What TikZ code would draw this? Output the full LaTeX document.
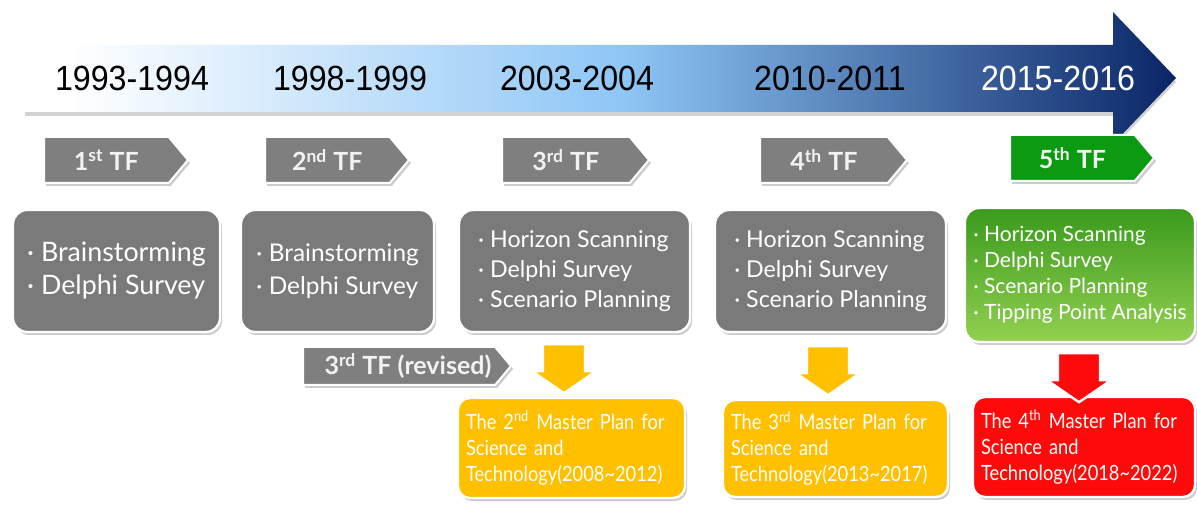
\documentclass[tikz,border=0pt]{standalone}
\usepackage{fontspec}
\setmainfont{Lato}
\newfontfamily\yearfont[FakeStretch=0.92]{Liberation Sans}
\newfontfamily\planfont[FakeStretch=0.87]{Lato}
\usetikzlibrary{shapes.symbols,shadows}

\definecolor{tfgray}{HTML}{7F7F7F}
\definecolor{boxgray}{HTML}{7A7A7A}
\definecolor{tfgreen}{HTML}{0C9A12}
\definecolor{greentop}{HTML}{3A9A1C}
\definecolor{greenbot}{HTML}{92D050}
\definecolor{planyellow}{HTML}{FFC000}
\definecolor{planred}{HTML}{FF0A0A}
\definecolor{skyblue}{HTML}{8EC6F6}
\definecolor{deepnavy}{HTML}{0A2566}
\pgfdeclarehorizontalshading{timeline}{100bp}{color(0bp)=(white); color(27bp)=(white); color(51bp)=(skyblue); color(75bp)=(deepnavy); color(100bp)=(deepnavy)}

\tikzset{
  softshadow/.style={drop shadow={shadow xshift=1pt,shadow yshift=-1.5pt,opacity=.4}},
  tftag/.style={signal, signal to=east, signal pointer angle=100, fill=tfgray, draw=white, line width=1pt,
    minimum width=72pt, minimum height=23pt, inner sep=0pt, text=white!95!black,
    font=\bfseries\fontsize{12.5}{14}\selectfont, softshadow},
  listbox/.style={rounded corners=7pt, fill=boxgray, draw=white, line width=1.2pt, text=white,
    align=left, inner sep=0pt, softshadow},
  planbox/.style={rounded corners=6pt, draw=white, line width=1.2pt, text=white, align=left,
    inner xsep=4pt, inner ysep=0pt, font=\planfont\fontsize{10.5}{13}\selectfont, softshadow},
  year/.style={font=\yearfont\fontsize{17.5}{20}\selectfont, inner sep=0pt},
  downarrow/.pic={\draw[pic actions] (-21,0) -- (21,0) -- (21,27) -- (32,27) -- (0,49) -- (-32,27) -- (-21,27) -- cycle;}
}

\begin{document}
\begin{tikzpicture}[x=0.5pt,y=-0.5pt]
\useasboundingbox (0,0) rectangle (1197,506);
\fill[white] (0,0) rectangle (1197,506);

% timeline arrow
\path[shading=timeline, drop shadow={shadow xshift=0pt,shadow yshift=-2pt,opacity=.35}]
  (25,45) -- (1113,45) -- (1113,12) -- (1176,78) -- (1113,144) -- (1113,112) -- (25,112) -- cycle;

\node[year] (y1) at (132,78) {1993-1994};
\node[year] (y2) at (350,78) {1998-1999};
\node[year] (y3) at (577,78) {2003-2004};
\node[year] (y4) at (830,78) {2010-2011};
\node[year, text=white] (y5) at (1058,78) {2015-2016};

% TF tags
\node[tftag, anchor=west] (tf1) at (43,160) {1\textsuperscript{st} TF\hspace{21pt}};
\node[tftag, anchor=west] (tf2) at (264,160) {2\textsuperscript{nd} TF\hspace{21pt}};
\node[tftag, anchor=west, minimum width=73.5pt] (tf3) at (501,160) {3\textsuperscript{rd} TF\hspace{21pt}};
\node[tftag, anchor=west, minimum width=73.5pt] (tf4) at (759,160) {4\textsuperscript{th} TF\hspace{21pt}};
\node[tftag, anchor=west, fill=tfgreen] (tf5) at (1009,158) {5\textsuperscript{th} TF\hspace{21pt}};

% methods
\node[listbox, minimum width=103.5pt, minimum height=61pt, font=\fontsize{13.4}{16.5}\selectfont]
  (m1) at (116.5,271) {· Brainstorming\\· Delphi Survey};
\node[listbox, minimum width=96.5pt, minimum height=61pt, font=\fontsize{12.2}{16.5}\selectfont]
  (m2) at (337.5,271) {· Brainstorming\\· Delphi Survey};
\node[listbox, minimum width=115.5pt, minimum height=61pt, font=\fontsize{11.6}{15}\selectfont]
  (m3) at (574.5,271) {· Horizon Scanning\\· Delphi Survey\\· Scenario Planning};
\node[listbox, minimum width=115.5pt, minimum height=61pt, font=\fontsize{11.6}{15}\selectfont]
  (m4) at (830.5,271) {· Horizon Scanning\\· Delphi Survey\\· Scenario Planning};
\node[listbox, top color=greentop, bottom color=greenbot, minimum width=115pt, minimum height=67pt,
  font=\fontsize{10.5}{13}\selectfont]
  (m5) at (1080,275) {· Horizon Scanning\\· Delphi Survey\\· Scenario Planning\\· Tipping Point Analysis};

\node[tftag, anchor=west, minimum width=104pt, minimum height=19pt] (tf3r) at (302,366)
  {\hspace{9pt}3\textsuperscript{rd} TF (revised)};

% master plans
\node[planbox, fill=planyellow, minimum width=113.5pt, minimum height=50pt, text width=105.5pt]
  (p2) at (571.5,448) {The 2\textsuperscript{nd} Master Plan for\\Science and\\Technology(2008\textasciitilde2012)};
\node[planbox, fill=planyellow, minimum width=112.5pt, minimum height=48.5pt, text width=104.5pt]
  (p3) at (835.5,448.5) {The 3\textsuperscript{rd} Master Plan for\\Science and\\Technology(2013\textasciitilde2017)};
\node[planbox, fill=planred, minimum width=111pt, minimum height=50pt, text width=103pt]
  (p4) at (1084,447) {The 4\textsuperscript{th} Master Plan for\\Science and\\Technology(2018\textasciitilde2022)};

\path (m3.south) ++(-10.5,11) pic[fill=planyellow, draw=white, line width=1.2pt, softshadow] {downarrow};
\path (m4.south) ++(-2.5,13) pic[fill=planyellow, draw=white, line width=1.2pt, softshadow] {downarrow};
\path (m5.south) ++(-1,10) pic[fill=planred, draw=white, line width=1.2pt, softshadow] {downarrow};
\end{tikzpicture}
\end{document}
